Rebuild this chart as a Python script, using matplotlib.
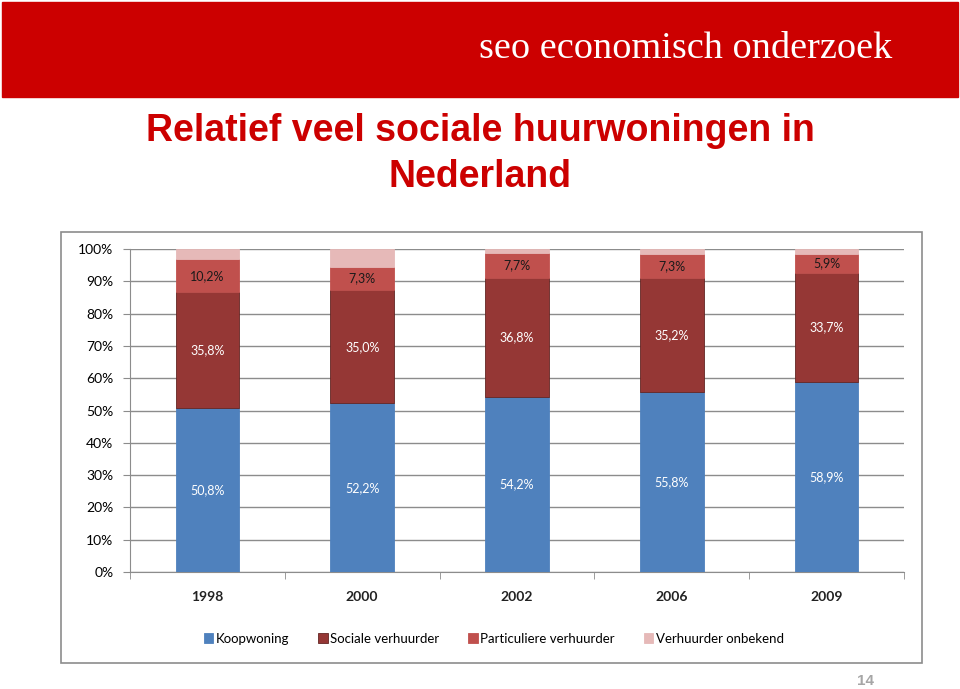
import matplotlib
matplotlib.use('Agg')
import matplotlib.pyplot as plt
import numpy as np
from matplotlib.patches import Rectangle

YEARS = ['1998', '2000', '2002', '2006', '2009']
KOOP = [50.8, 52.2, 54.2, 55.8, 58.9]
SOCIAAL = [35.8, 35.0, 36.8, 35.2, 33.7]
PARTICULIER = [10.2, 7.3, 7.7, 7.3, 5.9]
ONBEKEND = [100 - a - b - c for a, b, c in zip(KOOP, SOCIAAL, PARTICULIER)]
SERIES = ['Koopwoning', 'Sociale verhuurder', 'Particuliere verhuurder', 'Verhuurder onbekend']
COLORS = ['#4F81BD', '#953735', '#C0504D', '#E6B9B8']
EDGES = ['#4F81BD', '#632523', '#C0504D', '#E6B9B8']
TXT = ['white', 'white', '#1a1a1a', None]

W, H = 960, 689
fig = plt.figure(figsize=(W / 100, H / 100), dpi=100)
fig.patch.set_facecolor('white')

def box(x0, y0, x1, y1):
    # pixel coords (top-left origin) -> figure fraction
    return [x0 / W, 1 - y1 / H, (x1 - x0) / W, (y1 - y0) / H]

# red header banner
fig.patches.append(Rectangle((2 / W, 1 - 97 / H), 956 / W, 95 / H,
                             transform=fig.transFigure, color='#CC0000', zorder=-2))
fig.text(686 / W, 1 - 49 / H, 'seo economisch onderzoek', color='white',
         family='Liberation Serif', fontsize=27.5, ha='center', va='center')

# slide title
fig.text(480 / W, 1 - 131 / H, 'Relatief veel sociale huurwoningen in', color='#CC0000',
         family='Liberation Sans', weight='bold', fontsize=27, ha='center', va='center')
fig.text(480 / W, 1 - 177 / H, 'Nederland', color='#CC0000',
         family='Liberation Sans', weight='bold', fontsize=27, ha='center', va='center')

# chart frame
fig.patches.append(Rectangle((61 / W, 1 - 663 / H), 861 / W, 431 / H, transform=fig.transFigure,
                             facecolor='white', edgecolor='#8C8C8C', lw=1.2, zorder=-1))

ax = fig.add_axes(box(130, 249, 904, 572))
ax.set_zorder(2)
ax.patch.set_alpha(0)
x = np.arange(len(YEARS))
bottom = np.zeros(len(YEARS))
for i, vals in enumerate([KOOP, SOCIAAL, PARTICULIER, ONBEKEND]):
    vals = np.array(vals)
    ax.bar(x, vals, width=0.41, bottom=bottom, color=COLORS[i], edgecolor=EDGES[i],
           lw=0.6, label=SERIES[i], zorder=3)
    if TXT[i]:
        for xi, b, v in zip(x, bottom, vals):
            ax.text(xi, b + v / 2, f'{v:.1f}%'.replace('.', ','), ha='center', va='center',
                    color=TXT[i], fontsize=9, family='Lato', zorder=4)
    bottom += vals

ax.set_xlim(-0.5, len(YEARS) - 0.5)
ax.set_ylim(0, 100)
ax.set_yticks(np.arange(0, 101, 10))
ax.set_yticklabels([f'{v}%' for v in range(0, 101, 10)], family='Lato', fontsize=10)
ax.yaxis.grid(True, color='#8C8C8C', lw=1, zorder=0)
ax.set_xticks(x)
ax.set_xticklabels(YEARS, family='Lato', fontsize=10, weight='bold', color='#222222')
ax.set_xticks(np.arange(-0.5, len(YEARS)), minor=True)
ax.tick_params(axis='x', which='major', length=0, pad=14)
ax.tick_params(axis='x', which='minor', length=5, color='#8C8C8C', direction='out')
ax.tick_params(axis='y', length=5, color='#8C8C8C', direction='out', pad=7)
for s in ['top', 'right']:
    ax.spines[s].set_visible(False)
for s in ['left', 'bottom']:
    ax.spines[s].set_color('#8C8C8C')
ax.set_axisbelow(True)

ax.legend(loc='upper center', bbox_to_anchor=(0.47, -0.151), ncol=4, frameon=False,
          prop={'family': 'Lato', 'size': 9.5}, handlelength=0.7, handleheight=0.7,
          handletextpad=0.2, columnspacing=2.2)

fig.text(866 / W, 1 - 681 / H, '14', color='#A6A6A6', family='Liberation Sans',
         weight='bold', fontsize=11, ha='center', va='center')

fig.savefig('out.png', dpi=100)
